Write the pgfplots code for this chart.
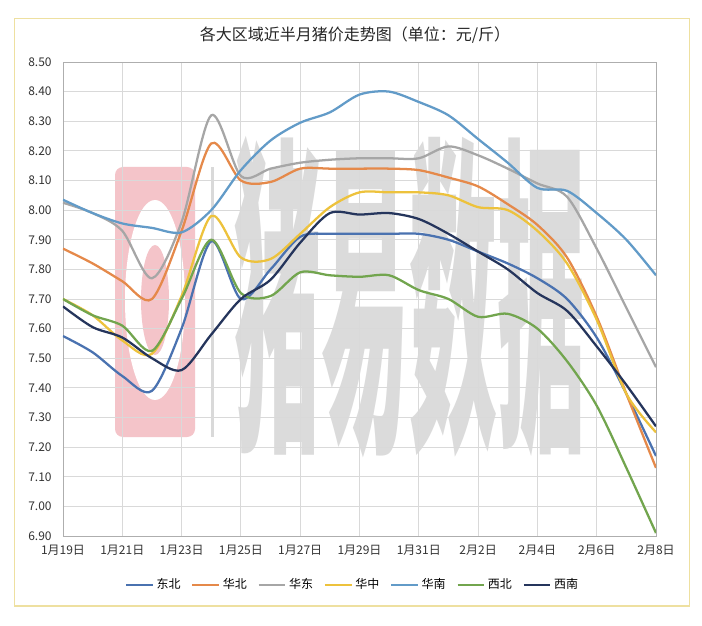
\documentclass[border=0pt]{standalone}
\usepackage{fontspec}
\setmainfont{Noto Sans CJK SC}
\usepackage{pgfplots}
\usepackage{pgfplotstable}
\pgfplotsset{compat=1.18}
\definecolor{cDB}{HTML}{4A72B0}
\definecolor{cHB}{HTML}{E5894A}
\definecolor{cHD}{HTML}{A6A6A6}
\definecolor{cHZ}{HTML}{EDC23C}
\definecolor{cHN}{HTML}{629BC8}
\definecolor{cXB}{HTML}{72A54E}
\definecolor{cXN}{HTML}{25355C}
\definecolor{gridc}{HTML}{D9D9D9}
\definecolor{cBorder}{HTML}{EEE0A0}
\definecolor{cPink}{HTML}{F4C4C9}

\pgfplotstableread{
d DB HB HD HZ HN XB XN
0 7.575 7.87 8.025 7.70 8.035 7.70 7.675
1 7.52 7.82 7.99 7.645 7.99 7.645 7.605
2 7.44 7.76 7.93 7.56 7.955 7.61 7.57
3 7.39 7.70 7.77 7.515 7.94 7.525 7.50
4 7.60 7.93 7.96 7.71 7.925 7.70 7.46
5 7.895 8.225 8.32 7.98 8.00 7.90 7.58
6 7.70 8.10 8.115 7.84 8.135 7.72 7.70
7 7.80 8.095 8.14 7.835 8.235 7.71 7.765
8 7.91 8.14 8.16 7.92 8.295 7.79 7.89
9 7.92 8.14 8.17 8.01 8.33 7.78 7.99
10 7.92 8.14 8.175 8.06 8.39 7.775 7.985
11 7.92 8.14 8.175 8.06 8.40 7.78 7.99
12 7.92 8.135 8.175 8.06 8.365 7.73 7.97
13 7.90 8.11 8.215 8.05 8.32 7.70 7.92
14 7.86 8.08 8.185 8.01 8.24 7.64 7.86
15 7.82 8.02 8.14 8.00 8.16 7.65 7.80
16 7.77 7.95 8.09 7.93 8.075 7.60 7.72
17 7.70 7.84 8.045 7.82 8.065 7.49 7.66
18 7.57 7.64 7.87 7.63 7.99 7.34 7.54
19 7.38 7.38 7.67 7.38 7.90 7.13 7.41
20 7.17 7.13 7.47 7.25 7.78 6.91 7.27
}\data

\begin{document}
\begin{tikzpicture}[x=0.75pt,y=0.75pt]
\path[fill=white,use as bounding box] (0,0) rectangle (702,625);
\draw[color=cBorder, line width=1.2pt] (14.5,19) rectangle (689.5,606.5);
% title
\node[font=\fontsize{12}{14}\selectfont, text=black!85] at (355,590) {各大区域近半月猪价走势图（单位：元/斤）};
% watermark
\fill[cPink, rounded corners=6pt] (115,188) rectangle (195,458);
\fill[white] (155,325) ellipse [x radius=30, y radius=100];
\fill[cPink] (155,325) ellipse [x radius=14, y radius=55];
\fill[gray!30] (211,188) rectangle (214,458);
\node[text=gray!28] at (409,328) {\scalebox{1}[3.8]{\fontsize{66}{66}\selectfont\bfseries 猪易数据}};
\begin{axis}[
  at={(47.25pt,66.75pt)}, anchor=south west,
  scale only axis, width=444.75pt, height=355.5pt,
  xmin=0, xmax=20, ymin=6.9, ymax=8.5,
  xtick={0,2,4,6,8,10,12,14,16,18,20},
  xticklabels={1月19日,1月21日,1月23日,1月25日,1月27日,1月29日,1月31日,2月2日,2月4日,2月6日,2月8日},
  ytick={6.9,7.0,7.1,7.2,7.3,7.4,7.5,7.6,7.7,7.8,7.9,8.0,8.1,8.2,8.3,8.4,8.5},
  /pgf/number format/assume math mode=true,
  yticklabel style={/pgf/number format/fixed, /pgf/number format/fixed zerofill, /pgf/number format/precision=2, xshift=-5pt},
  xticklabel style={yshift=-3pt},
  tick label style={font=\fontsize{9}{10}\selectfont, text=black!80},
  grid=major, major grid style={color=gridc, line width=0.7pt},
  axis line style={color=gridc!80!black, line width=0.7pt},
  tick style={draw=none},
  every axis plot/.append style={line width=1.7pt, no markers, smooth, tension=0.5},
  legend columns=7,
  legend style={at={(0.489,-0.103)}, anchor=center, draw=none, fill=none,
    font=\fontsize{9}{10}\selectfont, nodes={inner xsep=2pt},
    /tikz/every even column/.append style={column sep=6pt}},
  legend image code/.code={\draw[#1] (0pt,0pt) -- (20pt,0pt);},
]
\addplot[cDB] table[x=d,y=DB]{\data};
\addlegendentry{东北}
\addplot[cHB] table[x=d,y=HB]{\data};
\addlegendentry{华北}
\addplot[cHD] table[x=d,y=HD]{\data};
\addlegendentry{华东}
\addplot[cHZ] table[x=d,y=HZ]{\data};
\addlegendentry{华中}
\addplot[cHN] table[x=d,y=HN]{\data};
\addlegendentry{华南}
\addplot[cXB] table[x=d,y=XB]{\data};
\addlegendentry{西北}
\addplot[cXN] table[x=d,y=XN]{\data};
\addlegendentry{西南}
\end{axis}
\end{tikzpicture}
\end{document}
